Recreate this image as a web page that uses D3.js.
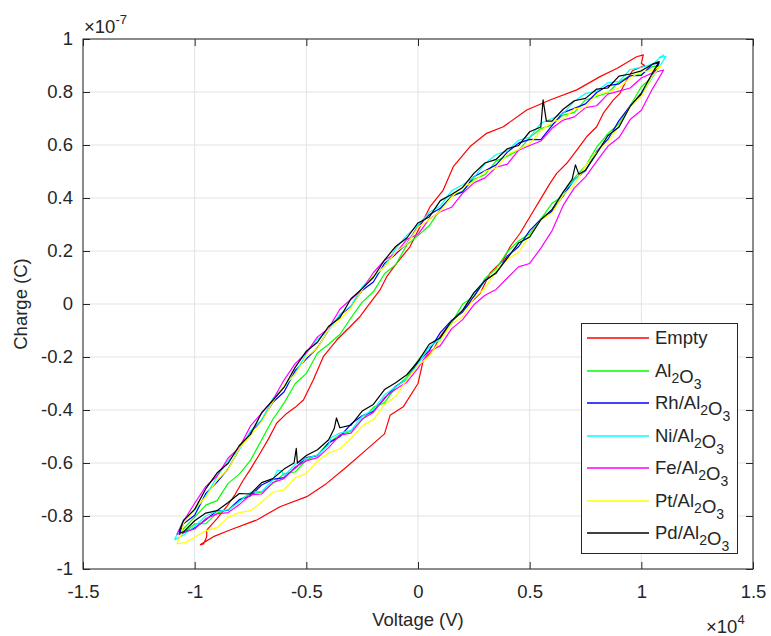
<!DOCTYPE html>
<html>
<head>
<meta charset="utf-8">
<script src="https://cdn.jsdelivr.net/npm/d3@7"></script>
<style>
body { margin: 0; background: #fff; }
text { font-family: "Liberation Sans", Arial, Helvetica, sans-serif; fill: #262626; }
</style>
</head>
<body>
<svg width="771" height="636"></svg>
<script>
// voltage in units of 1e4 V, charge in units of 1e-7 C (as shown on the axes)
var voltTicks = [-1.5, -1, -0.5, 0, 0.5, 1, 1.5];
var chargeTicks = [-1, -0.8, -0.6, -0.4, -0.2, 0, 0.2, 0.4, 0.6, 0.8, 1];

var seriesNames = ["Empty", "Al2O3", "Rh/Al2O3", "Ni/Al2O3", "Fe/Al2O3", "Pt/Al2O3", "Pd/Al2O3"];
var seriesColors = ["#ff0000", "#00ff00", "#0000ff", "#00ffff", "#ff00ff", "#ffff00", "#000000"];

var empty = [[-0.976,-0.909],[-0.96,-0.905],[-0.946,-0.878],[-0.946,-0.853],[-0.9,-0.81],[-0.857,-0.765],[-0.82,-0.72],[-0.782,-0.664],[-0.752,-0.626],[-0.707,-0.563],[-0.67,-0.51],[-0.633,-0.45],[-0.588,-0.413],[-0.55,-0.39],[-0.513,-0.362],[-0.469,-0.287],[-0.424,-0.199],[-0.364,-0.136],[-0.304,-0.086],[-0.26,-0.048],[-0.215,0.003],[-0.17,0.053],[-0.14,0.103],[-0.095,0.154],[-0.036,0.216],[0.024,0.317],[0.054,0.367],[0.113,0.43],[0.158,0.518],[0.233,0.594],[0.307,0.644],[0.382,0.669],[0.487,0.732],[0.591,0.77],[0.711,0.808],[0.815,0.858],[0.89,0.889],[0.979,0.933],[1.009,0.94],[1.0,0.908],[1.015,0.9],[0.96,0.88],[0.934,0.845],[0.904,0.795],[0.875,0.77],[0.83,0.72],[0.8,0.669],[0.755,0.631],[0.711,0.581],[0.666,0.531],[0.621,0.493],[0.591,0.455],[0.546,0.392],[0.516,0.35],[0.457,0.267],[0.412,0.216],[0.382,0.166],[0.322,0.116],[0.278,0.04],[0.218,-0.01],[0.143,-0.073],[0.099,-0.123],[0.069,-0.174],[0.024,-0.211],[0.0,-0.3],[-0.066,-0.388],[-0.125,-0.42],[-0.15,-0.49],[-0.245,-0.56],[-0.319,-0.614],[-0.409,-0.677],[-0.498,-0.727],[-0.618,-0.765],[-0.722,-0.815],[-0.842,-0.853],[-0.916,-0.878],[-0.976,-0.909]];

var al2o3 = [[-1.06,-0.87],[-1.05,-0.848],[-1.0,-0.804],[-0.95,-0.759],[-0.9,-0.742],[-0.85,-0.677],[-0.8,-0.642],[-0.75,-0.59],[-0.7,-0.512],[-0.65,-0.435],[-0.6,-0.374],[-0.55,-0.301],[-0.5,-0.262],[-0.45,-0.185],[-0.4,-0.152],[-0.35,-0.115],[-0.3,-0.052],[-0.25,0.007],[-0.2,0.046],[-0.15,0.114],[-0.1,0.148],[-0.05,0.223],[0.0,0.258],[0.05,0.295],[0.1,0.358],[0.15,0.407],[0.2,0.426],[0.25,0.471],[0.3,0.488],[0.35,0.54],[0.4,0.558],[0.45,0.58],[0.5,0.628],[0.55,0.662],[0.6,0.676],[0.65,0.713],[0.7,0.723],[0.75,0.77],[0.8,0.783],[0.85,0.797],[0.9,0.838],[0.95,0.862],[1.0,0.866],[1.05,0.896],[1.08,0.9],
  [1.05,0.858],[1.0,0.82],[0.95,0.748],[0.9,0.68],[0.85,0.643],[0.8,0.592],[0.75,0.521],[0.7,0.476],[0.65,0.408],[0.6,0.38],[0.55,0.32],[0.5,0.265],[0.45,0.238],[0.4,0.197],[0.35,0.134],[0.3,0.096],[0.25,0.028],[0.2,0.0],[0.15,-0.072],[0.1,-0.13],[0.05,-0.164],[0.0,-0.213],[-0.05,-0.276],[-0.1,-0.314],[-0.15,-0.372],[-0.2,-0.39],[-0.25,-0.437],[-0.3,-0.48],[-0.35,-0.494],[-0.4,-0.523],[-0.45,-0.569],[-0.5,-0.589],[-0.55,-0.634],[-0.6,-0.64],[-0.65,-0.677],[-0.7,-0.71],[-0.75,-0.717],[-0.8,-0.738],[-0.85,-0.776],[-0.9,-0.789],[-0.95,-0.829],[-1.0,-0.83],[-1.06,-0.87]];

var rhAl2o3 = [[-1.07,-0.87],[-1.05,-0.829],[-1.0,-0.797],[-0.95,-0.715],[-0.9,-0.672],[-0.85,-0.622],[-0.8,-0.547],[-0.75,-0.483],[-0.7,-0.439],[-0.65,-0.371],[-0.6,-0.332],[-0.55,-0.252],[-0.5,-0.207],[-0.45,-0.165],[-0.4,-0.097],[-0.35,-0.043],[-0.3,-0.009],[-0.25,0.051],[-0.2,0.083],[-0.15,0.153],[-0.1,0.188],[-0.05,0.228],[0.0,0.293],[0.05,0.337],[0.1,0.361],[0.15,0.406],[0.2,0.423],[0.25,0.48],[0.3,0.503],[0.35,0.525],[0.4,0.573],[0.45,0.607],[0.5,0.621],[0.55,0.62],[0.6,0.673],[0.65,0.722],[0.7,0.738],[0.75,0.755],[0.8,0.798],[0.85,0.824],[0.9,0.831],[0.95,0.861],[1.0,0.863],[1.05,0.905],[1.08,0.91],
  [1.04,0.845],[1.0,0.79],[0.95,0.748],[0.9,0.692],[0.85,0.621],[0.8,0.576],[0.75,0.503],[0.7,0.47],[0.65,0.408],[0.6,0.35],[0.55,0.32],[0.5,0.277],[0.45,0.216],[0.4,0.181],[0.35,0.116],[0.3,0.09],[0.25,0.028],[0.2,-0.03],[0.15,-0.062],[0.1,-0.108],[0.05,-0.176],[0.0,-0.219],[-0.05,-0.284],[-0.1,-0.31],[-0.15,-0.357],[-0.2,-0.405],[-0.25,-0.422],[-0.3,-0.453],[-0.35,-0.501],[-0.4,-0.524],[-0.45,-0.572],[-0.5,-0.58],[-0.55,-0.619],[-0.6,-0.655],[-0.65,-0.662],[-0.7,-0.683],[-0.75,-0.724],[-0.8,-0.739],[-0.85,-0.779],[-0.9,-0.78],[-0.95,-0.814],[-1.0,-0.845],[-1.07,-0.87]];

var niAl2o3 = [[-1.09,-0.89],[-1.05,-0.815],[-1.0,-0.777],[-0.95,-0.725],[-0.9,-0.652],[-0.85,-0.59],[-0.8,-0.549],[-0.75,-0.479],[-0.7,-0.437],[-0.65,-0.357],[-0.6,-0.312],[-0.55,-0.262],[-0.5,-0.187],[-0.45,-0.133],[-0.4,-0.099],[-0.35,-0.039],[-0.3,-0.007],[-0.25,0.065],[-0.2,0.103],[-0.15,0.143],[-0.1,0.208],[-0.05,0.26],[0.0,0.296],[0.05,0.346],[0.1,0.37],[0.15,0.427],[0.2,0.45],[0.25,0.477],[0.3,0.53],[0.35,0.564],[0.4,0.578],[0.45,0.618],[0.5,0.63],[0.55,0.682],[0.6,0.7],[0.65,0.719],[0.7,0.765],[0.75,0.794],[0.8,0.803],[0.85,0.835],[0.9,0.84],[0.95,0.885],[1.0,0.893],[1.05,0.905],[1.1,0.94],[1.08,0.93],[1.11,0.935],
  [1.07,0.88],[1.0,0.796],[0.95,0.746],[0.9,0.668],[0.85,0.635],[0.8,0.568],[0.75,0.505],[0.7,0.468],[0.65,0.422],[0.6,0.356],[0.55,0.318],[0.5,0.253],[0.45,0.23],[0.4,0.173],[0.35,0.118],[0.3,0.088],[0.25,0.042],[0.2,-0.024],[0.15,-0.064],[0.1,-0.132],[0.05,-0.162],[0.0,-0.227],[-0.05,-0.282],[-0.1,-0.312],[-0.15,-0.343],[-0.2,-0.399],[-0.25,-0.424],[-0.3,-0.477],[-0.35,-0.487],[-0.39,-0.505],[-0.4,-0.532],[-0.45,-0.57],[-0.5,-0.582],[-0.55,-0.605],[-0.6,-0.649],[-0.61,-0.63],[-0.63,-0.628],[-0.65,-0.664],[-0.7,-0.707],[-0.75,-0.71],[-0.8,-0.747],[-0.85,-0.777],[-0.9,-0.782],[-0.95,-0.8],[-1.0,-0.839],[-1.05,-0.872],[-1.09,-0.89]];

var feAl2o3 = [[-1.08,-0.87],[-1.05,-0.82],[-1.0,-0.752],[-0.95,-0.688],[-0.9,-0.649],[-0.85,-0.581],[-0.8,-0.542],[-0.75,-0.46],[-0.7,-0.412],[-0.65,-0.362],[-0.6,-0.287],[-0.55,-0.225],[-0.5,-0.184],[-0.45,-0.124],[-0.4,-0.092],[-0.35,-0.02],[-0.3,0.018],[-0.25,0.055],[-0.2,0.118],[-0.15,0.165],[-0.1,0.191],[-0.05,0.244],[0.0,0.263],[0.05,0.32],[0.1,0.348],[0.15,0.365],[0.2,0.418],[0.25,0.457],[0.3,0.476],[0.35,0.516],[0.4,0.528],[0.45,0.58],[0.5,0.598],[0.55,0.615],[0.6,0.663],[0.65,0.694],[0.7,0.706],[0.75,0.741],[0.8,0.748],[0.85,0.792],[0.9,0.803],[0.95,0.815],[1.0,0.853],[1.05,0.872],[1.1,0.883],
  [1.05,0.812],[1.0,0.731],[0.95,0.696],[0.9,0.628],[0.85,0.595],[0.8,0.538],[0.75,0.48],[0.7,0.438],[0.65,0.372],[0.6,0.276],[0.55,0.211],[0.5,0.153],[0.45,0.14],[0.4,0.098],[0.35,0.055],[0.3,0.033],[0.25,-0.003],[0.2,-0.059],[0.15,-0.094],[0.1,-0.157],[0.05,-0.18],[0.0,-0.242],[-0.05,-0.295],[-0.1,-0.322],[-0.15,-0.353],[-0.2,-0.409],[-0.25,-0.434],[-0.3,-0.487],[-0.35,-0.495],[-0.4,-0.542],[-0.45,-0.58],[-0.5,-0.592],[-0.55,-0.615],[-0.6,-0.659],[-0.65,-0.674],[-0.7,-0.717],[-0.75,-0.72],[-0.8,-0.757],[-0.85,-0.787],[-0.9,-0.792],[-0.95,-0.81],[-1.0,-0.849],[-1.08,-0.87]];

var ptAl2o3 = [[-1.08,-0.905],[-1.06,-0.87],[-1.05,-0.827],[-1.0,-0.773],[-0.95,-0.729],[-0.9,-0.664],[-0.85,-0.624],[-0.8,-0.545],[-0.75,-0.497],[-0.7,-0.445],[-0.65,-0.369],[-0.6,-0.308],[-0.55,-0.266],[-0.5,-0.199],[-0.45,-0.167],[-0.4,-0.095],[-0.35,-0.057],[-0.3,-0.015],[-0.25,0.053],[-0.2,0.107],[-0.15,0.139],[-0.1,0.196],[-0.05,0.226],[0.0,0.29],[0.05,0.318],[0.1,0.35],[0.15,0.403],[0.2,0.442],[0.25,0.461],[0.3,0.501],[0.35,0.513],[0.4,0.565],[0.45,0.583],[0.5,0.605],[0.55,0.653],[0.6,0.687],[0.65,0.698],[0.7,0.736],[0.75,0.743],[0.8,0.79],[0.85,0.8],[0.9,0.815],[0.95,0.853],[1.0,0.877],[1.05,0.881],[1.09,0.9],
  [1.05,0.861],[1.0,0.783],[0.95,0.745],[0.9,0.673],[0.85,0.61],[0.8,0.573],[0.75,0.522],[0.7,0.451],[0.65,0.411],[0.6,0.343],[0.55,0.317],[0.5,0.258],[0.45,0.195],[0.4,0.168],[0.35,0.125],[0.3,0.061],[0.25,0.021],[0.2,-0.047],[0.15,-0.075],[0.1,-0.137],[0.05,-0.197],[0.0,-0.232],[-0.05,-0.285],[-0.1,-0.349],[-0.15,-0.379],[-0.2,-0.437],[-0.25,-0.46],[-0.3,-0.507],[-0.35,-0.547],[-0.4,-0.562],[-0.45,-0.593],[-0.5,-0.639],[-0.55,-0.656],[-0.6,-0.702],[-0.65,-0.71],[-0.7,-0.747],[-0.75,-0.78],[-0.8,-0.787],[-0.85,-0.805],[-0.9,-0.844],[-0.95,-0.856],[-1.0,-0.88],[-1.04,-0.9],[-1.08,-0.905]];

var pdAl2o3 = [[-1.07,-0.86],[-1.05,-0.817],[-1.0,-0.775],[-0.95,-0.697],[-0.9,-0.638],[-0.85,-0.601],[-0.8,-0.534],[-0.75,-0.492],[-0.7,-0.41],[-0.65,-0.364],[-0.6,-0.315],[-0.55,-0.239],[-0.5,-0.178],[-0.45,-0.144],[-0.4,-0.084],[-0.35,-0.052],[-0.3,0.02],[-0.25,0.058],[-0.2,0.1],[-0.15,0.166],[-0.1,0.217],[-0.05,0.249],[0.0,0.306],[0.05,0.328],[0.1,0.39],[0.15,0.413],[0.2,0.44],[0.25,0.493],[0.3,0.532],[0.35,0.546],[0.4,0.586],[0.45,0.598],[0.5,0.65],[0.55,0.668],[0.56,0.77],[0.575,0.69],[0.6,0.69],[0.65,0.735],[0.7,0.767],[0.75,0.776],[0.8,0.811],[0.85,0.815],[0.9,0.86],[0.95,0.868],[1.0,0.88],[1.05,0.905],[1.08,0.915],
  [1.05,0.872],[1.0,0.796],[0.95,0.746],[0.9,0.668],[0.85,0.635],[0.8,0.568],[0.75,0.505],[0.72,0.49],[0.705,0.525],[0.69,0.47],[0.65,0.422],[0.6,0.356],[0.55,0.318],[0.5,0.253],[0.45,0.23],[0.4,0.173],[0.35,0.118],[0.3,0.088],[0.25,0.042],[0.2,-0.024],[0.15,-0.064],[0.1,-0.127],[0.05,-0.152],[0.0,-0.217],[-0.05,-0.267],[-0.1,-0.297],[-0.15,-0.323],[-0.2,-0.379],[-0.25,-0.404],[-0.3,-0.457],[-0.35,-0.467],[-0.365,-0.43],[-0.375,-0.47],[-0.4,-0.512],[-0.45,-0.55],[-0.5,-0.572],[-0.54,-0.6],[-0.545,-0.545],[-0.555,-0.6],[-0.6,-0.623],[-0.65,-0.659],[-0.7,-0.674],[-0.75,-0.717],[-0.8,-0.715],[-0.85,-0.749],[-0.9,-0.78],[-0.95,-0.789],[-1.0,-0.818],[-1.05,-0.86],[-1.07,-0.865]];

var seriesData = [empty, al2o3, rhAl2o3, niAl2o3, feAl2o3, ptAl2o3, pdAl2o3];

var svg = d3.select("svg"),
    plotLeft = 83, plotRight = 753, plotTop = 39, plotBottom = 569,
    fontSize = "18.5px";

var x = d3.scaleLinear().domain([-1.5, 1.5]).range([plotLeft, plotRight]);
var y = d3.scaleLinear().domain([-1, 1]).range([plotBottom, plotTop]);

// grid
var grid = svg.append("g").attr("stroke", "#e3e3e3").attr("stroke-width", 1);
grid.selectAll(".vg").data(voltTicks).enter().append("line")
    .attr("x1", function(d) { return x(d); }).attr("x2", function(d) { return x(d); })
    .attr("y1", plotTop).attr("y2", plotBottom);
grid.selectAll(".hg").data(chargeTicks).enter().append("line")
    .attr("y1", function(d) { return y(d); }).attr("y2", function(d) { return y(d); })
    .attr("x1", plotLeft).attr("x2", plotRight);

// loops
var line = d3.line()
    .x(function(d) { return x(d[0]); })
    .y(function(d) { return y(d[1]); });

svg.append("g").selectAll("path")
    .data(seriesData)
    .enter().append("path")
      .attr("d", line)
      .attr("fill", "none")
      .attr("stroke", function(d, i) { return seriesColors[i]; })
      .attr("stroke-width", 1.2)
      .attr("stroke-linejoin", "round");

// axes, ticks pointing inwards like matlab
var fmt = function(d) { return String(d); };
var axisColor = "#262626";

var gx = svg.append("g").attr("transform", "translate(0," + plotBottom + ")")
    .call(d3.axisBottom(x).tickValues(voltTicks).tickFormat(fmt).tickSize(-7).tickSizeOuter(0).tickPadding(16));
var gy = svg.append("g").attr("transform", "translate(" + plotLeft + ",0)")
    .call(d3.axisLeft(y).tickValues(chargeTicks).tickFormat(fmt).tickSize(-7).tickSizeOuter(0).tickPadding(10));
var gt = svg.append("g").attr("transform", "translate(0," + plotTop + ")")
    .call(d3.axisTop(x).tickValues(voltTicks).tickFormat("").tickSize(-7).tickSizeOuter(0));
var gr = svg.append("g").attr("transform", "translate(" + plotRight + ",0)")
    .call(d3.axisRight(y).tickValues(chargeTicks).tickFormat("").tickSize(-7).tickSizeOuter(0));

[gx, gy, gt, gr].forEach(function(g) {
    g.select(".domain").remove();
    g.selectAll(".tick line").attr("stroke", axisColor);
    g.selectAll(".tick text")
        .style("font-family", "'Liberation Sans', Arial, sans-serif")
        .style("font-size", fontSize)
        .attr("fill", axisColor);
});

svg.append("rect")
    .attr("x", plotLeft).attr("y", plotTop)
    .attr("width", plotRight - plotLeft).attr("height", plotBottom - plotTop)
    .attr("fill", "none").attr("stroke", axisColor).attr("stroke-width", 1);

// exponent labels
var ey = svg.append("text").attr("x", plotLeft + 1).attr("y", 33).style("font-size", fontSize);
ey.append("tspan").text("\u00d710");
ey.append("tspan").attr("dy", -9).style("font-size", "13px").text("-7");

var ex = svg.append("text").attr("x", 706).attr("y", 633).style("font-size", fontSize);
ex.append("tspan").text("\u00d710");
ex.append("tspan").attr("dy", -9).style("font-size", "13px").text("4");

// axis titles
svg.append("text")
    .attr("x", (plotLeft + plotRight) / 2).attr("y", 626)
    .attr("text-anchor", "middle")
    .style("font-size", fontSize)
    .text("Voltage (V)");

svg.append("text")
    .attr("transform", "translate(27," + (plotTop + plotBottom) / 2 + ") rotate(-90)")
    .attr("text-anchor", "middle")
    .style("font-size", fontSize)
    .text("Charge (C)");

// legend
var legend = svg.append("g").attr("transform", "translate(581,323)");
legend.append("rect")
    .attr("x", 0.5).attr("y", 0.5)
    .attr("width", 156).attr("height", 230)
    .attr("fill", "#fff").attr("stroke", axisColor).attr("stroke-width", 1);

var rowY = d3.scaleLinear().domain([0, 6]).range([15, 210]);

var item = legend.selectAll(".item")
    .data(seriesNames)
    .enter().append("g")
      .attr("transform", function(d, i) { return "translate(0," + Math.round(rowY(i)) + ")"; });

item.append("line")
    .attr("x1", 6).attr("x2", 68)
    .attr("stroke", function(d, i) { return seriesColors[i]; })
    .attr("stroke-width", 1.6);

item.append("text")
    .attr("x", 74).attr("y", 6)
    .style("font-size", fontSize)
    .each(function(d) {
        var t = d3.select(this);
        // digits are chemical subscripts
        d.split(/(\d)/).filter(function(s) { return s.length; }).forEach(function(s) {
            if (/^\d$/.test(s)) {
                t.append("tspan").attr("dy", 6).style("font-size", "14px").text(s);
                t.append("tspan").attr("dy", -6).text("");
            } else {
                t.append("tspan").text(s);
            }
        });
    });
</script>
</body>
</html>
